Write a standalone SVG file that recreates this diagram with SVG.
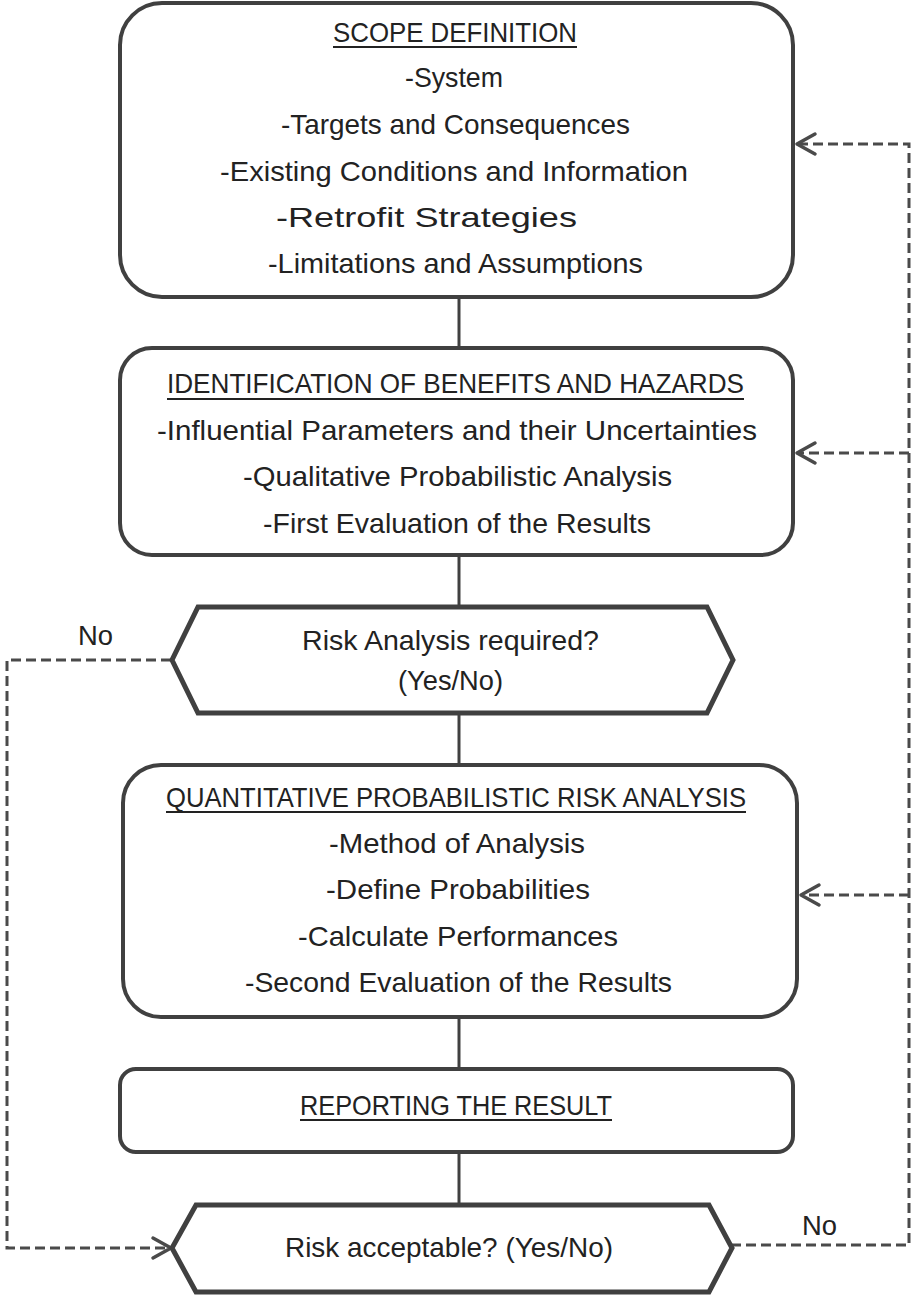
<svg xmlns="http://www.w3.org/2000/svg" width="912" height="1296" viewBox="0 0 912 1296">
<defs>
<style>
.box{fill:#fff;stroke:#404040;stroke-width:4}
.hex{fill:#fff;stroke:#404040;stroke-width:5;stroke-linejoin:miter}
.t{font-family:"Liberation Sans",Arial,sans-serif;font-size:28px;fill:#222;text-anchor:start}
.ul{stroke:#222;stroke-width:2}
.solid{fill:none;stroke:#404040;stroke-width:3}
.dash{fill:none;stroke:#4a4a4a;stroke-width:3;stroke-dasharray:10 5}
.ah{fill:none;stroke:#4a4a4a;stroke-width:3.5;stroke-linecap:round;stroke-linejoin:round}
</style>
</defs>
<rect width="912" height="1296" fill="#fff"/>
<g id="connectors">
<line class="solid" x1="459" y1="297" x2="459" y2="348"/>
<line class="solid" x1="459" y1="555" x2="459" y2="606"/>
<line class="solid" x1="459" y1="713" x2="459" y2="765"/>
<line class="solid" x1="459" y1="1017" x2="459" y2="1068"/>
<line class="solid" x1="459" y1="1153" x2="459" y2="1203"/>
<polyline class="dash" points="171,660 7,660 7,1248 168,1248"/>
<polyline class="dash" points="731,1245 909,1245 909,144 797,144"/>
<line class="dash" x1="909" y1="453" x2="797" y2="453"/>
<line class="dash" x1="909" y1="895" x2="801" y2="895"/>
<polyline class="ah" points="815,134 797,144 815,154"/>
<polyline class="ah" points="815,443 797,453 815,463"/>
<polyline class="ah" points="819,885 801,895 819,905"/>
<polyline class="ah" points="153,1238 171,1248 153,1258"/>
<text class="t" x="78" y="645" textLength="35" lengthAdjust="spacingAndGlyphs">No</text>
<text class="t" x="802" y="1235" textLength="35" lengthAdjust="spacingAndGlyphs">No</text>
</g>
<g id="scope">
<rect class="box" x="120" y="3" width="673" height="294" rx="42"/>
<text class="t" x="333" y="42" textLength="244" lengthAdjust="spacingAndGlyphs">SCOPE DEFINITION</text>
<line class="ul" x1="333" y1="47" x2="577" y2="47"/>
<text class="t" x="405" y="87" textLength="98" lengthAdjust="spacingAndGlyphs">-System</text>
<text class="t" x="281" y="134" textLength="349" lengthAdjust="spacingAndGlyphs">-Targets and Consequences</text>
<text class="t" x="220" y="181" textLength="468" lengthAdjust="spacingAndGlyphs">-Existing Conditions and Information</text>
<text class="t" x="276" y="227" textLength="301" lengthAdjust="spacingAndGlyphs">-Retrofit Strategies</text>
<text class="t" x="268" y="273" textLength="375" lengthAdjust="spacingAndGlyphs">-Limitations and Assumptions</text>
</g>
<g id="identification">
<rect class="box" x="120" y="348" width="673" height="207" rx="32"/>
<text class="t" x="167" y="393" textLength="577" lengthAdjust="spacingAndGlyphs">IDENTIFICATION OF BENEFITS AND HAZARDS</text>
<line class="ul" x1="167" y1="399" x2="744" y2="399"/>
<text class="t" x="157" y="440" textLength="600" lengthAdjust="spacingAndGlyphs">-Influential Parameters and their Uncertainties</text>
<text class="t" x="243" y="486" textLength="429" lengthAdjust="spacingAndGlyphs">-Qualitative Probabilistic Analysis</text>
<text class="t" x="263" y="533" textLength="388" lengthAdjust="spacingAndGlyphs">-First Evaluation of the Results</text>
</g>
<g id="decision1">
<polygon class="hex" points="198,607 707,607 733,660 707,713 198,713 172,660"/>
<text class="t" x="302" y="650" textLength="297" lengthAdjust="spacingAndGlyphs">Risk Analysis required?</text>
<text class="t" x="398" y="690" textLength="105" lengthAdjust="spacingAndGlyphs">(Yes/No)</text>
</g>
<g id="quantitative">
<rect class="box" x="123" y="765" width="674" height="252" rx="38"/>
<text class="t" x="166" y="807" textLength="580" lengthAdjust="spacingAndGlyphs">QUANTITATIVE PROBABILISTIC RISK ANALYSIS</text>
<line class="ul" x1="166" y1="812" x2="746" y2="812"/>
<text class="t" x="329" y="853" textLength="256" lengthAdjust="spacingAndGlyphs">-Method of Analysis</text>
<text class="t" x="326" y="899" textLength="264" lengthAdjust="spacingAndGlyphs">-Define Probabilities</text>
<text class="t" x="298" y="946" textLength="320" lengthAdjust="spacingAndGlyphs">-Calculate Performances</text>
<text class="t" x="245" y="992" textLength="427" lengthAdjust="spacingAndGlyphs">-Second Evaluation of the Results</text>
</g>
<g id="reporting">
<rect class="box" x="120" y="1069" width="673" height="83" rx="16"/>
<text class="t" x="300" y="1115" textLength="312" lengthAdjust="spacingAndGlyphs">REPORTING THE RESULT</text>
<line class="ul" x1="300" y1="1120" x2="612" y2="1120"/>
</g>
<g id="decision2">
<polygon class="hex" points="196,1205 709,1205 732,1248 709,1292 196,1292 172,1248"/>
<text class="t" x="285" y="1257" textLength="328" lengthAdjust="spacingAndGlyphs">Risk acceptable? (Yes/No)</text>
</g>
</svg>
